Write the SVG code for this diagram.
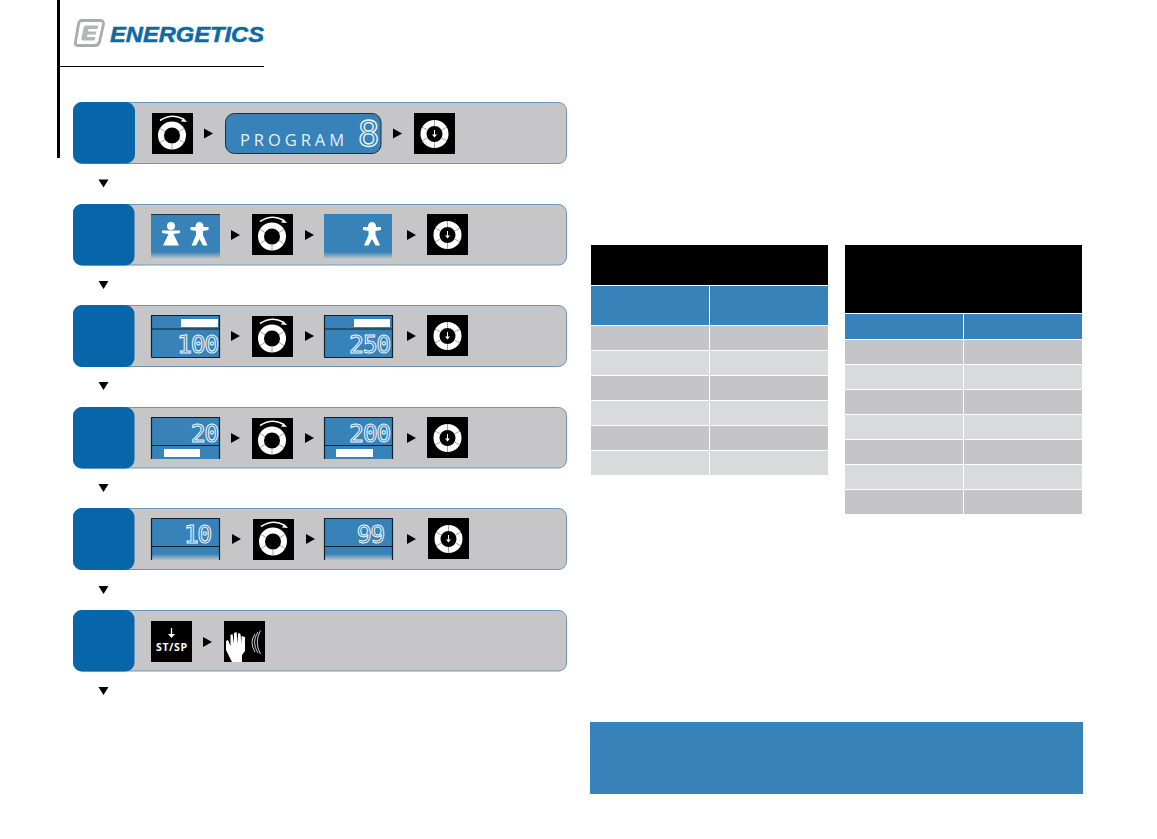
<svg xmlns="http://www.w3.org/2000/svg" width="1157" height="839" viewBox="0 0 1157 839">
<style>
.panel{fill:#c6c6c8;stroke:#6c96b6;stroke-width:1}
.tab{fill:#0766aa}
.arr{fill:#000}
.lcd{fill:#3682b9}
.lcdline{stroke:#10202c;stroke-width:1.200;fill:none}
.bar{fill:#fff}
.dig{font-family:"DejaVu Sans Mono","Liberation Mono",monospace;font-size:25px;fill:#3682b9;stroke:#f2f8fc;stroke-width:1;text-anchor:end;letter-spacing:-1.400px}
.dark{fill:#c5c5c7}.light{fill:#d8dadb}.head{fill:#3682b9}.blk{fill:#000}
</style>
<defs>
<linearGradient id="fade" x1="0" y1="0" x2="0" y2="1"><stop offset="0" stop-color="#3682b9"/><stop offset="0.84" stop-color="#3682b9"/><stop offset="1" stop-color="#3682b9" stop-opacity="0"/></linearGradient>
<g id="turn">
<rect width="41" height="41" fill="#000"/>
<circle cx="20" cy="22.500" r="11" fill="none" stroke="#fff" stroke-width="6"/>
<path d="M20 31V36.500M8 15.500l5 3M32 15.500l-5 3M8 29.500l5-3M32 29.500l-5-3" stroke="#8a8a8a" stroke-width="0.800" fill="none"/>
<path d="M8 7.500Q20 0 31 6" fill="none" stroke="#fff" stroke-width="1.500"/>
<path d="M35 9l-6-.5 2.500-3.500z" fill="#fff"/>
</g>
<g id="push">
<rect width="41" height="41" fill="#000"/>
<circle cx="20.500" cy="21" r="11" fill="none" stroke="#fff" stroke-width="6"/>
<path d="M20.500 7V13M20.500 29V35M8 14l5.500 3M33 14l-5.500 3M8 28l5.500-3M33 28l-5.500-3" stroke="#8a8a8a" stroke-width="0.800" fill="none"/>
<path d="M20.500 17V23" stroke="#fff" stroke-width="1"/>
<path d="M18 21.500h5l-2.500 3z" fill="#fff"/>
</g>
<path id="ra" d="M0-5L9 0L0 5z"/>
<path id="da" d="M-5 0H5L0 8z"/>
<path id="man" d="M0-9.500a4 4 0 1 1-.01 0zM-9-4.500H9V-1.500L3.500-.5V3.500L8 14H3.500L0 7.500-3.500 14H-8L-3.500 3.500V-.5L-9-1.500z" fill="#fff"/>
</defs>

<rect id="side-bar" x="57" y="0" width="3" height="158" fill="#000"/>
<rect id="head-rule" x="60" y="66" width="204" height="1" fill="#000"/>
<g id="logo">
<path d="M82 20.500H100Q104 20.500 103.500 24L99.500 42Q98.500 45.500 94.500 45.500H78Q74.500 45.500 75.500 42L78.500 24Q79 20.500 82 20.500z" fill="none" stroke="#a9abae" stroke-width="2.800"/>
<path d="M86 25.500H98.500L97.500 29H88.500L88 31.500H96.500L95.500 34.500H87.500L87 37H95.500L94.500 40.500H83Q81 40.500 81.500 38L83.500 28Q84 25.500 86 25.500z" fill="#b4b6b8"/>
<text x="110" y="42" font-family="'Liberation Sans',Arial,sans-serif" font-weight="700" font-style="italic" font-size="22" fill="#0b6aa5" textLength="154" lengthAdjust="spacingAndGlyphs" stroke="#0b6aa5" stroke-width="0.500">ENERGETICS</text>
</g>

<g id="step1">
<rect class="panel" x="73.500" y="102.500" width="493" height="61" rx="8"/>
<rect class="tab" x="73" y="102" width="62" height="61.500" rx="9"/>
<use href="#turn" x="152" y="113"/>
<use class="arr" href="#ra" x="204" y="133.500"/>
<rect x="225.500" y="113.500" width="155.500" height="40" rx="9" fill="#3682b9" stroke="#1c2f3e" stroke-width="1"/>
<text x="240" y="146" font-family="'Open Sans','Liberation Sans',sans-serif" font-size="16.500" fill="#e6f0f7" textLength="104">PROGRAM</text>
<text class="dig" x="378" y="146" style="font-size:36px;stroke-width:1.300">8</text>
<use class="arr" href="#ra" x="393" y="133.500"/>
<use href="#push" x="414" y="113"/>
</g>
<use class="arr" href="#da" x="103.500" y="179.500"/>

<g id="step2">
<rect class="panel" x="73.500" y="204.500" width="493" height="60.500" rx="8"/>
<rect class="tab" x="73" y="204" width="61.500" height="61.500" rx="9"/>
<rect x="151" y="214" width="69" height="45" fill="url(#fade)"/>
<path d="M151 214.500H220M324 214.500H392" stroke="#10202c" stroke-width="0.800"/>
<circle cx="171" cy="226" r="4" fill="#fff"/>
<path d="M162 230.500H180V233L173.500 234L179 245.500H163L168.500 234L162 233z" fill="#fff"/>
<use href="#man" x="199.500" y="231.500"/>
<use class="arr" href="#ra" x="231" y="235"/>
<use href="#turn" x="252" y="214"/>
<use class="arr" href="#ra" x="305" y="235"/>
<rect x="324" y="214" width="68" height="45" fill="url(#fade)"/>
<use href="#man" x="372" y="231.500"/>
<use class="arr" href="#ra" x="407" y="235"/>
<use href="#push" x="427" y="214"/>
</g>
<use class="arr" href="#da" x="103.500" y="281"/>

<g id="step3">
<rect class="panel" x="73.500" y="305.500" width="493" height="61" rx="8"/>
<rect class="tab" x="73" y="305" width="61.500" height="62" rx="9"/>
<rect class="lcd" x="151.500" y="315.500" width="68" height="42"/>
<rect class="lcd" x="324.500" y="315.500" width="68" height="42"/>
<path class="lcdline" d="M151.500 357.500V315.500H219.500V357.500H151.500M151.500 329H219.500M324.500 357.500V315.500H392.500V357.500H324.500M324.500 329H392.500"/>
<rect class="bar" x="181" y="319" width="37" height="8"/>
<rect class="bar" x="354" y="319" width="36" height="8"/>
<text class="dig" x="218" y="353">100</text>
<text class="dig" x="390" y="353">250</text>
<use class="arr" href="#ra" x="231" y="336"/>
<use href="#turn" x="252" y="316"/>
<use class="arr" href="#ra" x="305" y="336"/>
<use class="arr" href="#ra" x="407" y="336"/>
<use href="#push" x="427" y="315"/>
</g>
<use class="arr" href="#da" x="103.500" y="382"/>

<g id="step4">
<rect class="panel" x="73.500" y="407.500" width="493" height="60.500" rx="8"/>
<rect class="tab" x="73" y="407" width="61.500" height="61.500" rx="9"/>
<rect class="lcd" x="151.500" y="417.500" width="68" height="41.500"/>
<rect class="lcd" x="324.500" y="417.500" width="68" height="41.500"/>
<path class="lcdline" d="M151.500 459V417.500H219.500V459M151.500 445.500H219.500M324.500 459V417.500H392.500V459M324.500 445.500H392.500"/>
<rect class="bar" x="164" y="449" width="36" height="8"/>
<rect class="bar" x="336" y="449" width="37" height="8"/>
<text class="dig" x="218" y="442">20</text>
<text class="dig" x="390" y="442">200</text>
<use class="arr" href="#ra" x="231" y="438"/>
<use href="#turn" x="252" y="418"/>
<use class="arr" href="#ra" x="305" y="438"/>
<use class="arr" href="#ra" x="407" y="438"/>
<use href="#push" x="427" y="417"/>
</g>
<use class="arr" href="#da" x="103.500" y="484"/>

<g id="step5">
<rect class="panel" x="73.500" y="508.500" width="493" height="61" rx="8"/>
<rect class="tab" x="73" y="508" width="61.500" height="62" rx="9"/>
<rect x="151.500" y="518.500" width="68" height="42" fill="url(#fade)"/>
<rect x="324.500" y="518.500" width="68" height="42" fill="url(#fade)"/>
<path class="lcdline" d="M151.500 560V518.500H219.500V560M151.500 546.500H219.500M324.500 560V518.500H392.500V560M324.500 546.500H392.500"/>
<text class="dig" x="211" y="543">10</text>
<text class="dig" x="384" y="543">99</text>
<use class="arr" href="#ra" x="232" y="539"/>
<use href="#turn" x="253" y="519"/>
<use class="arr" href="#ra" x="306" y="539"/>
<use class="arr" href="#ra" x="407" y="539"/>
<use href="#push" x="428" y="518"/>
</g>
<use class="arr" href="#da" x="103.500" y="586"/>

<g id="step6">
<rect class="panel" x="73.500" y="610.500" width="493" height="60.500" rx="8"/>
<rect class="tab" x="73" y="610" width="61.500" height="61.500" rx="9"/>
<rect x="151" y="621" width="41" height="41" fill="#000"/>
<path d="M171.500 628V636" stroke="#fff" stroke-width="1.300"/>
<path d="M168 634h7l-3.500 4z" fill="#fff"/>
<text x="156" y="651" font-family="'Open Sans','Liberation Sans',sans-serif" font-weight="700" font-size="10.500" fill="#fff" textLength="31">ST/SP</text>
<use class="arr" href="#ra" x="203" y="642"/>
<rect x="224" y="621" width="41" height="41" fill="#000"/>
<path d="M232 662L226 650V641L228 640L230.500 646V635L232.500 634L234 644V633L236.500 632L238 644V633L240.500 634L241.500 644V636L245 637V651L242 655V662z" fill="#fff"/>
<path d="M255 634Q249 642 255 652M258 632Q251 642 258 653M260.500 630.500Q254 642 260.500 654" fill="none" stroke="#fff" stroke-width="0.800"/>
</g>
<use class="arr" href="#da" x="103.500" y="687"/>

<g id="table1">
<rect class="blk" x="591" y="245" width="237" height="40"/>
<rect class="head" x="591" y="286" width="118" height="39"/><rect class="head" x="710" y="286" width="118" height="39"/>
<rect class="dark" x="591" y="326" width="118" height="24"/><rect class="dark" x="710" y="326" width="118" height="24"/>
<rect class="light" x="591" y="351" width="118" height="24"/><rect class="light" x="710" y="351" width="118" height="24"/>
<rect class="dark" x="591" y="376" width="118" height="24"/><rect class="dark" x="710" y="376" width="118" height="24"/>
<rect class="light" x="591" y="401" width="118" height="24"/><rect class="light" x="710" y="401" width="118" height="24"/>
<rect class="dark" x="591" y="426" width="118" height="24"/><rect class="dark" x="710" y="426" width="118" height="24"/>
<rect class="light" x="591" y="451" width="118" height="24"/><rect class="light" x="710" y="451" width="118" height="24"/>
</g>
<g id="table2">
<rect class="blk" x="845" y="245" width="237" height="68"/>
<rect class="head" x="845" y="314" width="118" height="25"/><rect class="head" x="964" y="314" width="118" height="25"/>
<rect class="dark" x="845" y="340" width="118" height="24"/><rect class="dark" x="964" y="340" width="118" height="24"/>
<rect class="light" x="845" y="365" width="118" height="24"/><rect class="light" x="964" y="365" width="118" height="24"/>
<rect class="dark" x="845" y="390" width="118" height="24"/><rect class="dark" x="964" y="390" width="118" height="24"/>
<rect class="light" x="845" y="415" width="118" height="24"/><rect class="light" x="964" y="415" width="118" height="24"/>
<rect class="dark" x="845" y="440" width="118" height="24"/><rect class="dark" x="964" y="440" width="118" height="24"/>
<rect class="light" x="845" y="465" width="118" height="24"/><rect class="light" x="964" y="465" width="118" height="24"/>
<rect class="dark" x="845" y="490" width="118" height="24"/><rect class="dark" x="964" y="490" width="118" height="24"/>
</g>
<rect id="note" x="590" y="722" width="493" height="72" fill="#3682b9"/>
</svg>
